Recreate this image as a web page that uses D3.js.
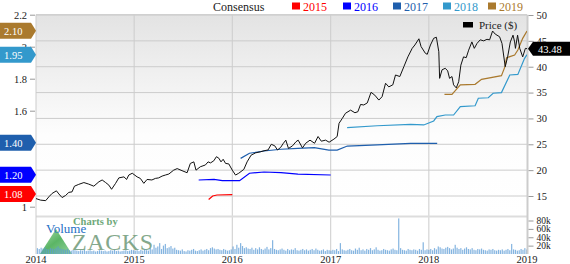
<!DOCTYPE html>
<html><head><meta charset="utf-8">
<script src="https://cdn.jsdelivr.net/npm/d3@7"></script>
<style>body{margin:0;background:#fff}svg{display:block}text{font-family:"Liberation Serif","Times New Roman",serif}</style>
</head><body><svg id="c" width="570" height="264"></svg>
<script>
// ---------- data ----------
const priceDates = ["2014-01-01","2014-01-18","2014-02-06","2014-02-18","2014-03-02","2014-03-18","2014-03-27","2014-04-08","2014-04-21","2014-05-03","2014-05-15","2014-05-24","2014-06-09","2014-06-28","2014-07-16","2014-08-04","2014-08-23","2014-09-04","2014-09-17","2014-09-29","2014-10-09","2014-10-24","2014-11-05","2014-11-24","2014-12-04","2014-12-12","2014-12-25",
"2015-01-12","2015-01-24","2015-02-06","2015-02-18","2015-03-08","2015-03-21","2015-04-02","2015-04-15","2015-04-27","2015-05-10","2015-05-28","2015-06-10","2015-06-28","2015-07-17","2015-07-29","2015-08-11","2015-08-19","2015-09-04","2015-09-23","2015-10-03","2015-10-12","2015-10-24","2015-11-03","2015-11-12","2015-11-20","2015-11-28","2015-12-07","2015-12-19",
"2016-01-01","2016-01-13","2016-01-25","2016-02-13","2016-02-25","2016-03-11","2016-03-28","2016-04-15","2016-04-28","2016-05-13","2016-05-25","2016-06-07","2016-06-17","2016-06-29","2016-07-09","2016-07-18","2016-07-28","2016-08-12","2016-08-25","2016-09-02","2016-09-18","2016-09-30","2016-10-16","2016-11-02","2016-11-15","2016-11-27","2016-12-13","2016-12-26",
"2017-01-13","2017-01-25","2017-02-01","2017-02-13","2017-02-25","2017-03-16","2017-04-01","2017-04-12","2017-04-22","2017-05-04","2017-05-17","2017-05-31","2017-06-14","2017-06-29","2017-07-11","2017-07-24","2017-08-05","2017-08-20","2017-08-30","2017-09-15","2017-09-30","2017-10-15","2017-10-31","2017-11-10","2017-11-25","2017-12-03","2017-12-19","2017-12-26",
"2018-01-07","2018-01-19","2018-01-29","2018-02-07","2018-02-10","2018-02-19","2018-03-03","2018-03-12","2018-03-19","2018-03-28","2018-04-03","2018-04-13","2018-04-22","2018-04-30","2018-05-10","2018-05-20","2018-05-29","2018-06-10","2018-06-19","2018-06-29","2018-07-11","2018-07-24","2018-08-05","2018-08-15","2018-08-26","2018-09-05","2018-09-21","2018-09-30","2018-10-12","2018-10-21","2018-10-31","2018-11-10","2018-11-16","2018-11-19","2018-11-27","2018-12-05","2018-12-16","2018-12-26","2019-01-01"];
const priceValues = [14.5,14.2,14.1,14.85,15.5,16.0,15.4,14.7,15.1,15.7,15.8,16.9,17.25,17.6,17.3,16.9,17.75,18.1,17.6,17.1,16.3,17.45,18.5,18.7,18.2,19.05,19.4,
18.7,18.4,17.45,18.2,18.1,18.4,18.5,18.85,19.05,19.25,20.0,20.3,19.9,19.5,21.3,21.6,20.0,20.65,21.0,21.6,21.4,21.8,22.6,22.3,21.6,22.1,21.3,21.2,
20.0,19.05,19.4,20.15,21.6,22.9,23.35,23.55,23.75,23.9,25.0,24.7,23.9,24.4,25.2,25.8,24.2,24.7,25.5,25.8,24.3,25.2,25.8,25.2,26.5,25.6,25.8,25.4,
26.0,26.5,29.05,30.0,31.0,31.6,31.1,31.3,32.7,32.6,33.0,35.05,34.5,33.55,34.2,36.8,36.1,36.5,38.4,38.1,40.0,41.9,43.55,44.2,45.4,43.9,42.6,42.4,
44.2,45.5,45.7,42.9,37.75,39.4,39.7,39.2,37.75,38.1,36.5,35.9,37.1,40.3,41.9,41.75,43.2,44.8,43.55,44.5,45.2,45.0,45.3,45.2,46.9,46.3,45.8,44.5,40.0,41.9,44.8,46.1,44.8,43.55,46.1,43.55,41.9,43.55,43.48];

const consensusYears = ["2015","2016","2017","2018","2019"];
const consensusColors = ["#ff0000","#0000ff","#1f5fad","#3399cc","#aa7a2e"];
const consensusLabels = ["1.08","1.20","1.40","1.95","2.10"];
const cons2015Dates = ["2015-10-05","2015-10-20","2015-11-05","2016-01-01"];
const cons2015Values = [1.045,1.067,1.073,1.075];
const cons2016Dates = ["2015-08-29","2015-10-25","2015-11-25","2016-01-28","2016-03-05","2016-04-28","2016-06-30","2016-09-01","2017-01-01"];
const cons2016Values = [1.167,1.171,1.163,1.163,1.209,1.217,1.213,1.204,1.198];
const cons2017Dates = ["2016-02-01","2016-03-05","2016-04-28","2016-06-30","2016-09-01","2016-11-01","2016-12-25","2017-01-25","2017-03-04","2017-06-23","2017-10-25","2017-12-26","2018-02-01"];
const cons2017Values = [1.302,1.334,1.348,1.359,1.365,1.369,1.354,1.354,1.379,1.386,1.396,1.396,1.396];
const cons2018Dates = ["2017-03-03","2017-06-23","2017-10-25","2017-12-13","2018-01-19","2018-01-31","2018-03-03","2018-04-03","2018-04-28","2018-06-22","2018-07-04","2018-08-10","2018-08-28","2018-09-28","2018-10-29","2018-11-28","2018-12-23","2019-01-01"];
const cons2018Values = [1.494,1.506,1.515,1.511,1.536,1.563,1.573,1.573,1.625,1.631,1.678,1.681,1.709,1.713,1.823,1.827,1.927,1.95];
const cons2019Dates = ["2018-02-28","2018-03-28","2018-04-28","2018-06-22","2018-07-16","2018-09-28","2018-10-11","2018-10-17","2018-11-16","2018-11-28","2018-12-16","2019-01-01"];
const cons2019Values = [1.702,1.702,1.761,1.765,1.796,1.819,1.875,1.931,1.948,1.979,2.052,2.098];

const volumeStart = "2014-01-06";
const volumeValues = [14,12,15,13,16,12,11,14,13,12,15,18,14,12,11,10,12,9,8,10,9,8,7,9,8,10,7,8,9,7,8,6,7,9,8,7,8,6,7,9,8,10,7,8,6,7,8,9,7,8,10,9,
8,9,7,10,8,12,9,8,14,11,22,15,18,26,12,20,24,14,16,19,13,15,10,9,8,11,7,6,9,8,10,12,8,7,9,11,8,10,12,9,14,16,13,11,12,10,9,12,10,8,9,11,
18,12,22,15,26,19,14,16,13,12,15,10,14,11,16,12,10,13,17,11,14,33,12,10,9,11,13,10,8,12,9,11,10,14,9,8,10,12,9,11,8,10,12,9,13,10,8,9,11,7,10,9,
8,10,9,12,7,26,11,9,8,10,12,9,8,13,10,15,9,11,8,12,10,14,9,11,16,10,8,9,12,10,9,8,11,13,10,9,85,14,10,9,8,12,10,9,11,10,8,12,10,28,9,11,
10,12,9,14,11,18,16,13,12,15,17,14,11,13,22,15,12,14,10,13,16,12,11,14,10,9,12,11,13,10,9,8,11,10,12,9,8,10,9,11,8,10,12,9,24,11,10,8,9,12,10,14,11];

const leftTicks = [1,1.2,1.4,1.6,1.8,2,2.2];
const priceTicks = [15,20,25,30,35,40,45,50];
const volumeTicks = [20,40,60,80];
const yearTicks = ["2014","2015","2016","2017","2018","2019"];
const lastPrice = "43.48";

// ---------- chart ----------
const P = d3.timeParse("%Y-%m-%d");
const svg = d3.select("#c");
const L = 36, R = 527, T = 14.7, MB = 215, VT = 218, VB = 254;
const x = d3.scaleTime().domain([P("2014-01-01"), P("2019-01-01")]).range([L, R]);
const yL = d3.scaleLinear().domain([1.0, 2.2]).range([206.7, T]);
const yP = d3.scaleLinear().domain([15, 50]).range([196, 15]);
const yV = d3.scaleLinear().domain([0, 80]).range([VB, 220.5]);

const defs = svg.append("defs");
const g = defs.append("linearGradient").attr("id","bg").attr("x1",0).attr("y1",0).attr("x2",0).attr("y2",1);
g.append("stop").attr("offset","0%").attr("stop-color","#e3e3e3");
g.append("stop").attr("offset","60%").attr("stop-color","#fdfdfd");
g.append("stop").attr("offset","100%").attr("stop-color","#ffffff");
defs.append("clipPath").attr("id","clipM").append("rect").attr("x",L).attr("y",T).attr("width",R-L).attr("height",MB-T);
const tg = defs.append("linearGradient").attr("id","tri").attr("x1",0).attr("y1",0).attr("x2",1).attr("y2",1);
tg.append("stop").attr("offset","0%").attr("stop-color","#9fd9a0");
tg.append("stop").attr("offset","50%").attr("stop-color","#3ea84a");
tg.append("stop").attr("offset","100%").attr("stop-color","#7cc98a");

svg.append("rect").attr("x",L).attr("y",T).attr("width",R-L).attr("height",MB-T).attr("fill","url(#bg)");

svg.append("g").selectAll("line").data(priceTicks).join("line")
  .attr("x1",L).attr("x2",R).attr("y1",d=>yP(d)).attr("y2",d=>yP(d))
  .attr("stroke","#cccccc").attr("stroke-width",1);
svg.append("g").selectAll("line").data(yearTicks.slice(1,-1)).join("line")
  .attr("x1",d=>x(P(d+"-01-01"))).attr("x2",d=>x(P(d+"-01-01"))).attr("y1",T).attr("y2",VB)
  .attr("stroke","#cccccc").attr("stroke-width",1);
svg.append("line").attr("x1",L).attr("x2",R).attr("y1",216.5).attr("y2",216.5).attr("stroke","#dddddd").attr("stroke-width",2);

// watermark
const wm = svg.append("g");
wm.append("path").attr("d",`M40,254 L56,229 L72,254 Z`).attr("fill","url(#tri)").attr("opacity",0.85);
wm.append("text").attr("x",73).attr("y",225).attr("font-family","'DejaVu Sans',sans-serif").attr("font-weight","bold").attr("font-size",10.5).attr("fill","#6da878").text("Charts by");
wm.append("text").attr("x",72).attr("y",250).attr("font-family","'DejaVu Sans',sans-serif").attr("font-size",24).attr("fill","#6f9a78").attr("opacity",0.85).attr("textLength",81).text("ZACKS");
svg.append("text").attr("x",46).attr("y",233).attr("font-size",13).attr("fill","#1f6fc5").text("Volume");

const v0 = P(volumeStart);
svg.append("g").selectAll("rect").data(volumeValues).join("rect")
  .attr("x",(d,i)=>x(d3.timeDay.offset(v0,7*i))-0.6).attr("width",1.2)
  .attr("y",d=>yV(d)).attr("height",d=>VB-yV(d))
  .attr("fill","#5b9bd5").attr("opacity",0.75);

svg.append("line").attr("x1",L).attr("x2",L).attr("y1",T).attr("y2",VB).attr("stroke","#cccccc");
svg.append("line").attr("x1",L).attr("x2",R).attr("y1",T).attr("y2",T).attr("stroke","#cccccc");
svg.append("line").attr("x1",R+0.5).attr("x2",R+0.5).attr("y1",T).attr("y2",VB).attr("stroke","#cccccc").attr("stroke-width",2);

const consSeries = [[cons2015Dates,cons2015Values],[cons2016Dates,cons2016Values],[cons2017Dates,cons2017Values],[cons2018Dates,cons2018Values],[cons2019Dates,cons2019Values]];
const lineL = d3.line().x(d=>x(d[0])).y(d=>yL(d[1]));
const mc = svg.append("g").attr("clip-path","url(#clipM)");
consSeries.forEach((s,i)=>{
  const pts = s[0].map((d,j)=>[P(d), s[1][j]]);
  mc.append("path").attr("d",lineL(pts)).attr("fill","none").attr("stroke",consensusColors[i]).attr("stroke-width",1.2);
});
const pricePts = priceDates.map((d,i)=>[P(d), priceValues[i]]);
mc.append("path").attr("d",d3.line().x(d=>x(d[0])).y(d=>yP(d[1]))(pricePts))
  .attr("fill","none").attr("stroke","#111").attr("stroke-width",1);

const hiddenLeft = [1.2,1.4];
const la = svg.append("g").attr("transform",`translate(${L-1},0)`)
  .call(d3.axisLeft(yL).tickValues(leftTicks).tickFormat(d=>hiddenLeft.includes(d)?"":d3.format("~g")(d)).tickSize(5).tickPadding(3));
la.select(".domain").remove();
la.selectAll("line").attr("stroke","#999");
la.selectAll("text").attr("font-size",10.5).attr("fill","#222").attr("font-family","'Liberation Serif',serif");
const ra = svg.append("g").attr("transform",`translate(${R+1.5},0)`)
  .call(d3.axisRight(yP).tickValues(priceTicks).tickSize(5).tickPadding(3));
ra.select(".domain").remove();
ra.selectAll("line").attr("stroke","#999");
ra.selectAll("text").attr("font-size",10.5).attr("fill","#222").attr("font-family","'Liberation Serif',serif");
const va = svg.append("g").attr("transform",`translate(${R+1.5},0)`)
  .call(d3.axisRight(yV).tickValues(volumeTicks).tickFormat(d=>d+"k").tickSize(5).tickPadding(3));
va.select(".domain").remove();
va.selectAll("line").attr("stroke","#999");
va.selectAll("text").attr("font-size",9.5).attr("fill","#222").attr("font-family","'Liberation Serif',serif");
svg.append("g").selectAll("text").data(yearTicks).join("text")
  .attr("x",d=>x(P(d+"-01-01"))).attr("y",263).attr("text-anchor","middle")
  .attr("font-size",10.5).attr("fill","#222").text(d=>d);

const tags = svg.append("g");
consensusLabels.forEach((lab,i)=>{
  const cy = yL(+lab);
  tags.append("path").attr("d",`M0,${cy-8} L31,${cy-8} L36,${cy} L31,${cy+8} L0,${cy+8} Z`).attr("fill",consensusColors[i]);
  tags.append("text").attr("x",4).attr("y",cy+3.8).attr("font-size",10.5).attr("fill","#fff").text(lab);
});
const py = yP(+lastPrice);
svg.append("path").attr("d",`M528,${py} L533,${py-7} L570,${py-7} L570,${py+7} L533,${py+7} Z`).attr("fill","#000");
svg.append("text").attr("x",538).attr("y",py+3.8).attr("font-size",10.5).attr("fill","#fff").text(lastPrice);

const lg = svg.append("g");
lg.append("text").attr("x",213).attr("y",10.8).attr("font-size",12).attr("fill","#222").text("Consensus");
const lx = [292,343,393,443,488];
consensusYears.forEach((yr,i)=>{
  lg.append("rect").attr("x",lx[i]).attr("y",2.5).attr("width",8).attr("height",7).attr("fill",consensusColors[i]);
  lg.append("text").attr("x",lx[i]+11).attr("y",10.8).attr("font-size",12).attr("fill",consensusColors[i]).text(yr);
});
svg.append("rect").attr("x",463).attr("y",22).attr("width",10).attr("height",5.5).attr("fill","#000");
svg.append("text").attr("x",479).attr("y",29).attr("font-size",11).attr("fill","#222").text("Price ($)");
</script></body></html>
